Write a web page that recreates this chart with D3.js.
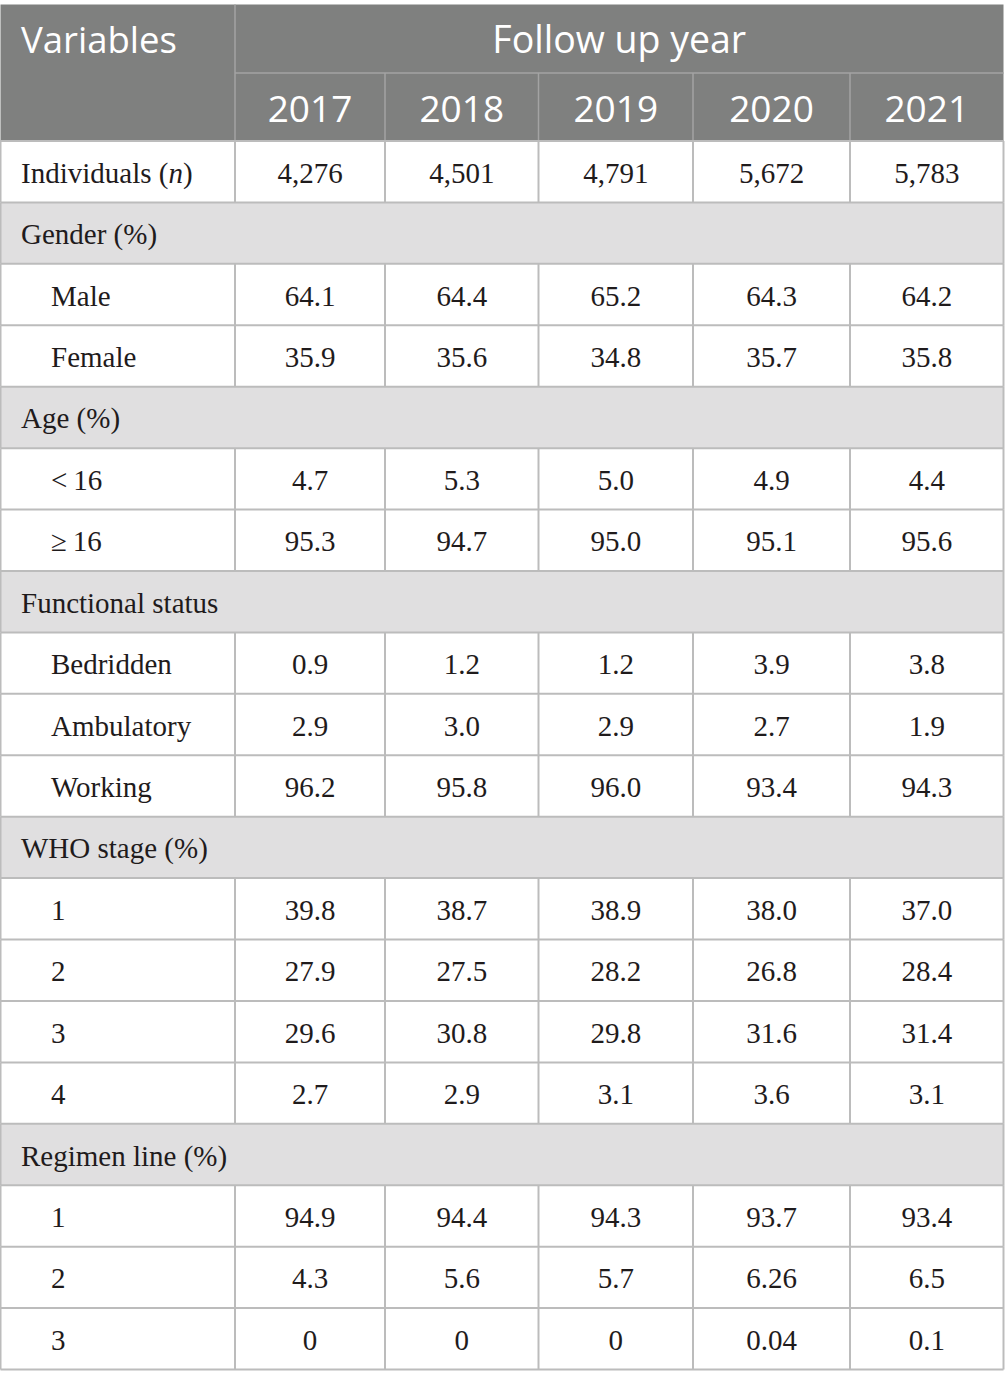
<!DOCTYPE html>
<html>
<head>
<meta charset="utf-8">
<script src="https://cdn.jsdelivr.net/npm/d3@7"></script>
<style>
  body { margin: 0; background: #fff; }
</style>
</head>
<body>
<div id="chart"></div>
<script>
const years = ["2017", "2018", "2019", "2020", "2021"];

const individuals = [4276, 4501, 4791, 5672, 5783];
const male = ["64.1", "64.4", "65.2", "64.3", "64.2"];
const female = ["35.9", "35.6", "34.8", "35.7", "35.8"];
const ageUnder16 = ["4.7", "5.3", "5.0", "4.9", "4.4"];
const age16Plus = ["95.3", "94.7", "95.0", "95.1", "95.6"];
const bedridden = ["0.9", "1.2", "1.2", "3.9", "3.8"];
const ambulatory = ["2.9", "3.0", "2.9", "2.7", "1.9"];
const working = ["96.2", "95.8", "96.0", "93.4", "94.3"];
const who1 = ["39.8", "38.7", "38.9", "38.0", "37.0"];
const who2 = ["27.9", "27.5", "28.2", "26.8", "28.4"];
const who3 = ["29.6", "30.8", "29.8", "31.6", "31.4"];
const who4 = ["2.7", "2.9", "3.1", "3.6", "3.1"];
const regimen1 = ["94.9", "94.4", "94.3", "93.7", "93.4"];
const regimen2 = ["4.3", "5.6", "5.7", "6.26", "6.5"];
const regimen3 = ["0", "0", "0", "0.04", "0.1"];

const rows = [
    {label: "Individuals", italic: "n", kind: "plain", values: individuals.map(d3.format(","))},
    {label: "Gender (%)", kind: "section"},
    {label: "Male", kind: "sub", values: male},
    {label: "Female", kind: "sub", values: female},
    {label: "Age (%)", kind: "section"},
    {label: "<\u200916", kind: "sub", values: ageUnder16},
    {label: "\u2265\u200916", kind: "sub", values: age16Plus},
    {label: "Functional status", kind: "section"},
    {label: "Bedridden", kind: "sub", values: bedridden},
    {label: "Ambulatory", kind: "sub", values: ambulatory},
    {label: "Working", kind: "sub", values: working},
    {label: "WHO stage (%)", kind: "section"},
    {label: "1", kind: "sub", values: who1},
    {label: "2", kind: "sub", values: who2},
    {label: "3", kind: "sub", values: who3},
    {label: "4", kind: "sub", values: who4},
    {label: "Regimen line (%)", kind: "section"},
    {label: "1", kind: "sub", values: regimen1},
    {label: "2", kind: "sub", values: regimen2},
    {label: "3", kind: "sub", values: regimen3},
];

function drawTable() {
    const width = 1005, height = 1388;
    const left = 0.5, right = 1003.5, top = 4.5, headMid = 73, headBottom = 141, bottom = 1369.5;
    const labelColEnd = 235;
    const colEdges = [235, 385, 538.5, 693, 850, 1003.5];
    const lineColor = "#bcbcbc", headLine = "#a3a3a3";
    const serif = "'Liberation Serif', 'Times New Roman', serif";
    const sans = "'Open Sans', 'Noto Sans', sans-serif";

    const svg = d3.select("#chart").append("svg")
        .attr("width", width)
        .attr("height", height);

    // column positions per year
    const xStart = d3.scaleOrdinal().domain(years).range(colEdges.slice(0, 5));
    const xEnd = d3.scaleOrdinal().domain(years).range(colEdges.slice(1));
    const xMid = (yr) => (xStart(yr) + xEnd(yr)) / 2;

    const y = d3.scaleBand()
        .domain(d3.range(rows.length))
        .range([headBottom, bottom])
        .paddingInner(0);

    // header
    const head = svg.append("g");
    head.append("rect")
        .attr("x", left).attr("y", top)
        .attr("width", right - left).attr("height", headBottom - top)
        .attr("fill", "#7f807f");
    head.append("line")
        .attr("x1", labelColEnd).attr("x2", right)
        .attr("y1", headMid).attr("y2", headMid)
        .attr("stroke", headLine).attr("stroke-width", 1.5);
    head.append("line")
        .attr("x1", labelColEnd).attr("x2", labelColEnd)
        .attr("y1", top).attr("y2", headBottom)
        .attr("stroke", headLine).attr("stroke-width", 1.5);
    head.selectAll(".ysep")
        .data(years.slice(1))
        .join("line")
        .attr("class", "ysep")
        .attr("x1", (d) => xStart(d)).attr("x2", (d) => xStart(d))
        .attr("y1", headMid).attr("y2", headBottom)
        .attr("stroke", headLine).attr("stroke-width", 1.5);

    head.append("text")
        .attr("x", 21).attr("y", 53)
        .attr("fill", "#fff")
        .style("font-family", sans).style("font-size", "36.5px")
        .text("Variables");
    head.append("text")
        .attr("x", (labelColEnd + right) / 2).attr("y", 53)
        .attr("text-anchor", "middle")
        .attr("fill", "#fff")
        .style("font-family", sans).style("font-size", "37.5px")
        .text("Follow up year");
    head.selectAll(".year")
        .data(years)
        .join("text")
        .attr("class", "year")
        .attr("x", (d) => xMid(d)).attr("y", 122)
        .attr("text-anchor", "middle")
        .attr("fill", "#fff")
        .style("font-family", sans).style("font-size", "37px")
        .text((d) => d);

    // body rows
    const body = svg.append("g");
    body.selectAll(".rowbg")
        .data(rows)
        .join("rect")
        .attr("class", "rowbg")
        .attr("x", left).attr("width", right - left)
        .attr("y", (d, i) => y(i)).attr("height", y.bandwidth())
        .attr("fill", (d) => d.kind === "section" ? "#e0dfe0" : "#fff");

    // horizontal lines
    body.selectAll(".hline")
        .data(d3.range(rows.length + 1))
        .join("line")
        .attr("class", "hline")
        .attr("x1", left).attr("x2", right)
        .attr("y1", (i) => i < rows.length ? y(i) : bottom)
        .attr("y2", (i) => i < rows.length ? y(i) : bottom)
        .attr("stroke", lineColor).attr("stroke-width", 2);

    // vertical lines for data rows
    const dataRows = rows.map((d, i) => ({...d, i})).filter((d) => d.kind !== "section");
    dataRows.forEach((r) => {
        body.selectAll(null)
            .data([left, ...colEdges])
            .join("line")
            .attr("x1", (d) => d).attr("x2", (d) => d)
            .attr("y1", y(r.i)).attr("y2", y(r.i) + y.bandwidth())
            .attr("stroke", lineColor).attr("stroke-width", 2);
    });
    // outer sides for section rows
    rows.forEach((r, i) => {
        if (r.kind !== "section") return;
        body.selectAll(null)
            .data([left, right])
            .join("line")
            .attr("x1", (d) => d).attr("x2", (d) => d)
            .attr("y1", y(i)).attr("y2", y(i) + y.bandwidth())
            .attr("stroke", lineColor).attr("stroke-width", 2);
    });

    // labels
    const labels = body.selectAll(".label")
        .data(rows)
        .join("text")
        .attr("class", "label")
        .attr("x", (d) => d.kind === "sub" ? 51 : 21)
        .attr("y", (d, i) => y(i) + y.bandwidth() / 2 + 11)
        .attr("fill", "#1f1b1c")
        .style("font-family", serif).style("font-size", "29px");
    labels.append("tspan").text((d) => d.italic ? d.label + " (" : d.label);
    labels.filter((d) => d.italic).append("tspan").style("font-style", "italic").text((d) => d.italic);
    labels.filter((d) => d.italic).append("tspan").text(")");

    // values
    dataRows.forEach((r) => {
        body.selectAll(null)
            .data(years.map((yr, k) => ({yr, v: r.values[k]})))
            .join("text")
            .attr("x", (d) => xMid(d.yr))
            .attr("y", y(r.i) + y.bandwidth() / 2 + 11)
            .attr("text-anchor", "middle")
            .attr("fill", "#1f1b1c")
            .style("font-family", serif).style("font-size", "29px")
            .text((d) => d.v);
    });
}

drawTable();
</script>
</body>
</html>
